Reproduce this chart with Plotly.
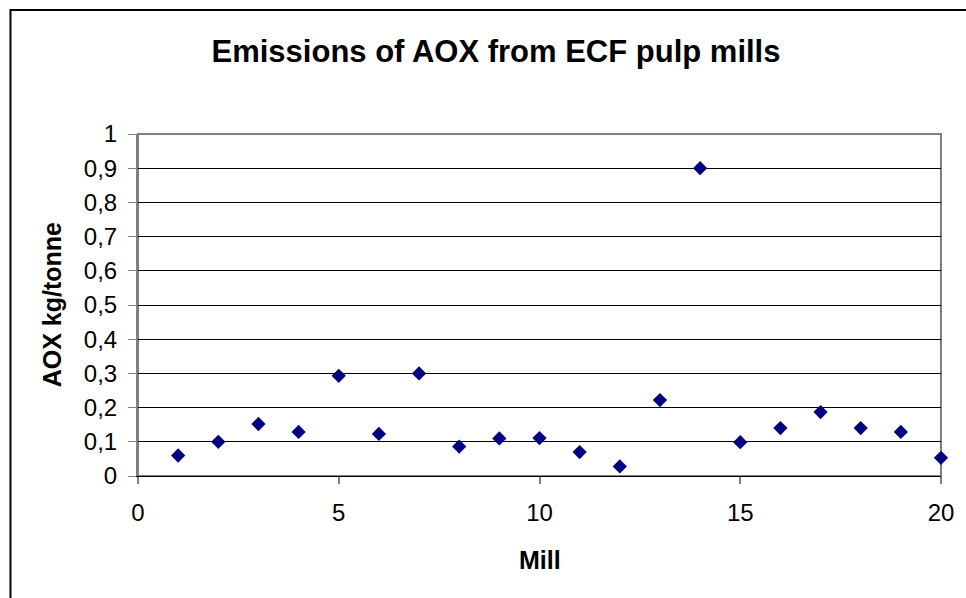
import plotly.graph_objects as go

mills = list(range(1, 21))
aox = [0.06, 0.10, 0.152, 0.129, 0.293, 0.123, 0.30, 0.086, 0.11, 0.111,
       0.07, 0.028, 0.222, 0.90, 0.099, 0.14, 0.187, 0.14, 0.129, 0.053]

title_text = "Emissions of AOX from ECF pulp mills"
x_title = "Mill"
y_title = "AOX kg/tonne"

W, H = 966, 598
L, R, T, B = 138, 22, 134, 122

FONT = "Liberation Sans, Arial, sans-serif"

fig = go.Figure()
fig.add_trace(go.Scatter(
    x=mills, y=aox, mode="markers",
    marker=dict(symbol="diamond", size=11, color="#000080",
                line=dict(width=0)),
    cliponaxis=False, showlegend=False,
))

pw = W - L - R
ph = H - T - B


def px2x(p):
    return (p - L) / pw


def py2y(p):
    return (H - B - p) / ph


fig.update_layout(
    width=W, height=H,
    margin=dict(l=L, r=R, t=T, b=B),
    paper_bgcolor="white", plot_bgcolor="white",
    separators=", ",
    font=dict(family=FONT, color="black", size=24),
    title=dict(text="<b>" + title_text + "</b>", font=dict(size=31, family=FONT),
               x=496 / W, xref="container", xanchor="center",
               y=1 - 51 / H, yref="container", yanchor="middle"),
    xaxis=dict(range=[0, 20], dtick=5, tick0=0, showgrid=False, zeroline=False,
               showline=True, linecolor="black", linewidth=1,
               ticks="outside", ticklen=7, tickcolor="#808080", tickwidth=2,
               ticklabelstandoff=8,
               tickfont=dict(size=24), fixedrange=True),
    yaxis=dict(range=[0, 1], dtick=0.1, tick0=0, showgrid=True,
               gridcolor="black", gridwidth=1, zeroline=False,
               showline=True, linecolor="#808080", linewidth=2,
               ticks="outside", ticklen=8, tickcolor="#808080", tickwidth=1,
               ticklabelstandoff=6,
               tickfont=dict(size=24), fixedrange=True),
    shapes=[
        dict(type="rect", xref="paper", yref="paper", x0=0, x1=1, y0=0, y1=1,
             line=dict(color="#808080", width=2), layer="below"),
        dict(type="rect", xref="paper", yref="paper",
             x0=px2x(10), x1=px2x(W + 10), y0=py2y(H + 10), y1=py2y(10),
             line=dict(color="black", width=2)),
    ],
    annotations=[
        dict(text="<b>" + x_title + "</b>", xref="paper", yref="paper",
             x=0.5, y=py2y(560), xanchor="center", yanchor="middle",
             showarrow=False, font=dict(size=25, family=FONT)),
        dict(text="<b>" + y_title + "</b>", xref="paper", yref="paper",
             x=px2x(52), y=py2y(305), xanchor="center", yanchor="middle",
             textangle=-90, showarrow=False, font=dict(size=25, family=FONT)),
    ],
)

fig.write_html("out.html")
